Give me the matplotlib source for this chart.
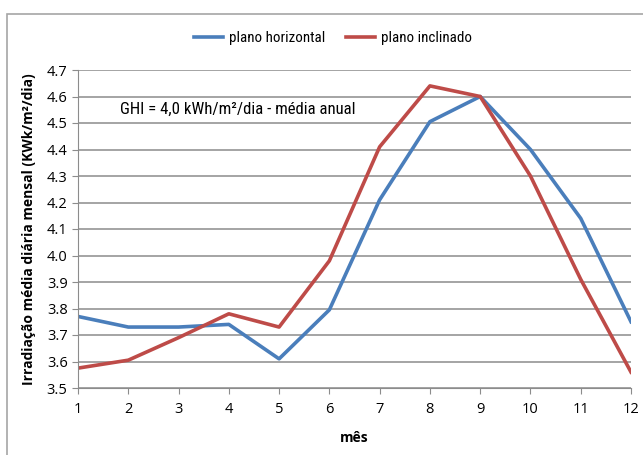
import matplotlib.pyplot as plt
from matplotlib.patches import Rectangle
from matplotlib import font_manager

meses = list(range(1, 13))
plano_horizontal = [3.77, 3.73, 3.73, 3.74, 3.61, 3.795, 4.21, 4.505, 4.60, 4.40, 4.14, 3.75]
plano_inclinado = [3.575, 3.605, 3.69, 3.78, 3.73, 3.98, 4.41, 4.64, 4.60, 4.30, 3.91, 3.56]
y_ticks = [3.5, 3.6, 3.7, 3.8, 3.9, 4.0, 4.1, 4.2, 4.3, 4.4, 4.5, 4.6, 4.7]

plt.rcParams['font.family'] = ['Open Sans', 'DejaVu Sans']

# narrower face for the legend and the note
installed = {f.name for f in font_manager.fontManager.ttflist}
if 'Roboto Condensed' in installed:
    narrow, leg_size, note_size = 'Roboto Condensed', 10.85, 12.1
else:
    narrow, leg_size, note_size = 'Roboto', 9.7, 10.8

fig = plt.figure(figsize=(6.43, 4.55), dpi=100)
ax = fig.add_axes([78 / 643, 1 - 388 / 455, (631 - 78) / 643, (388 - 70) / 455])

# outer chart frame
fig.patches.append(Rectangle((7 / 643, -0.1), 1.2, 1 - 14 / 455 + 0.1,
                             transform=fig.transFigure, fill=False,
                             edgecolor='#a6a6a6', linewidth=1.2))

ax.plot(meses, plano_horizontal, color='#4a7ebb', linewidth=2.6, label='plano horizontal')
ax.plot(meses, plano_inclinado, color='#be4b48', linewidth=2.6, label='plano inclinado')

ax.set_xlim(1, 12)
ax.set_ylim(3.5, 4.7)
ax.set_xticks(meses)
ax.set_yticks(y_ticks)
ax.set_yticklabels([f'{v:.1f}' for v in y_ticks])
ax.grid(axis='y', color='#8c8c8c', linewidth=1.1)
ax.set_axisbelow(True)
for s in ['top', 'right']:
    ax.spines[s].set_visible(False)
for s in ['left', 'bottom']:
    ax.spines[s].set_color('#8c8c8c')
ax.tick_params(axis='both', colors='#8c8c8c', labelcolor='black', labelsize=10.5, length=4)
ax.tick_params(axis='x', pad=6)

ax.set_xlabel('mês', fontweight='bold', fontsize=10, labelpad=10)
ax.set_ylabel('Irradiação média diária mensal (KWk/m²/dia)', fontweight='bold', fontsize=10, labelpad=8)

ax.text(1.83, 4.55, 'GHI = 4,0 kWh/m²/dia - média anual', fontsize=note_size,
        va='center', family=[narrow, 'DejaVu Sans'])

fig.legend(loc='center', bbox_to_anchor=(333 / 643, 1 - 38 / 455), ncol=2, frameon=False,
           prop={'family': [narrow, 'DejaVu Sans'], 'size': leg_size},
           handlelength=1.9, columnspacing=1.4, handletextpad=0.4)

fig.savefig('out.png', dpi=100)
